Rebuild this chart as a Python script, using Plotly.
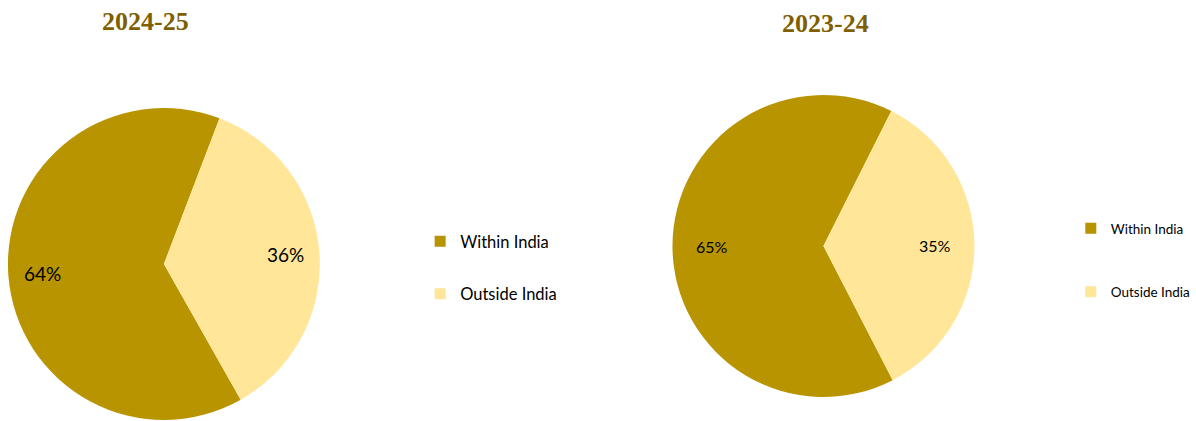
import math
import plotly.graph_objects as go

# Share of activity by location, two financial years
categories = ["Within India", "Outside India"]
share_2024_25 = [64, 36]
share_2023_24 = [65, 35]
years = ["2024-25", "2023-24"]

slice_colors = ["#B89400", "#FFE699"]
title_color = "#7F6000"

W, H = 1196, 421

# Pie geometry in pixels: centre x, centre y (from top), radius, start angle
pies = [
    dict(values=share_2024_25, cx=165, cy=264, r=157, rot=150.5,
         label_r=0.78, label_size=19, title_x=146, title_y=22),
    dict(values=share_2023_24, cx=829, cy=246, r=152, rot=152.7,
         label_r=0.74, label_size=16, title_x=831, title_y=24),
]

fig = go.Figure()
annotations = []

for year, p in zip(years, pies):
    fig.add_trace(go.Pie(
        labels=categories, values=p["values"], sort=False,
        direction="clockwise", rotation=p["rot"],
        marker=dict(colors=slice_colors, line=dict(width=0)),
        textinfo="none",
        domain=dict(x=[(p["cx"] - p["r"]) / W, (p["cx"] + p["r"]) / W],
                    y=[max(0, (H - p["cy"] - p["r"]) / H),
                       (H - p["cy"] + p["r"]) / H]),
        showlegend=False, hoverinfo="label+percent",
    ))

    # Percentage labels placed along each slice's mid-angle
    total = sum(p["values"])
    start = p["rot"]
    for v in p["values"]:
        sweep = v / total * 360
        mid = math.radians(start + sweep / 2)
        lx = p["cx"] + p["label_r"] * p["r"] * math.sin(mid)
        ly = p["cy"] - p["label_r"] * p["r"] * math.cos(mid)
        annotations.append(dict(
            text=f"{v}%", x=lx / W, y=1 - ly / H, xref="paper", yref="paper",
            xanchor="center", yanchor="middle", showarrow=False,
            font=dict(family="Lato", size=p["label_size"], color="#000000"),
        ))
        start += sweep

    # Year heading above each pie
    annotations.append(dict(
        text="<b>" + year + "</b>",
        x=p["title_x"] / W, y=1 - p["title_y"] / H,
        xref="paper", yref="paper", xanchor="center", yanchor="middle",
        showarrow=False,
        font=dict(family="Liberation Serif", size=26, color=title_color),
    ))

# Legend entries: one square marker per category, a legend beside each pie
for legend_id in ("legend", "legend2"):
    for name, color in zip(categories, slice_colors):
        fig.add_trace(go.Scatter(
            x=[None], y=[None], mode="markers", name=name,
            marker=dict(symbol="square", size=11, color=color),
            legend=legend_id, legendgroup=legend_id + name,
            showlegend=True, hoverinfo="skip",
        ))

legend_common = dict(
    bgcolor="rgba(0,0,0,0)", traceorder="grouped",
    xanchor="left", yanchor="top", itemclick=False, itemdoubleclick=False,
)

fig.update_layout(
    width=W, height=H,
    margin=dict(l=0, r=0, t=0, b=0),
    paper_bgcolor="#FFFFFF", plot_bgcolor="#FFFFFF",
    xaxis=dict(visible=False), yaxis=dict(visible=False),
    legend=dict(**legend_common, x=423 / W, y=1 - 224 / H,
                tracegroupgap=28,
                font=dict(family="Lato", size=16.5, color="#000000")),
    legend2=dict(**legend_common, x=1078 / W, y=1 - 213 / H,
                 tracegroupgap=43,
                 font=dict(family="Lato", size=13.5, color="#000000")),
    annotations=annotations,
)

# Keep the page from scrolling so the figure fills the window exactly
fig.write_html(
    "out.html",
    post_script="document.body.style.margin='0';"
                "document.body.style.overflow='hidden';",
)
